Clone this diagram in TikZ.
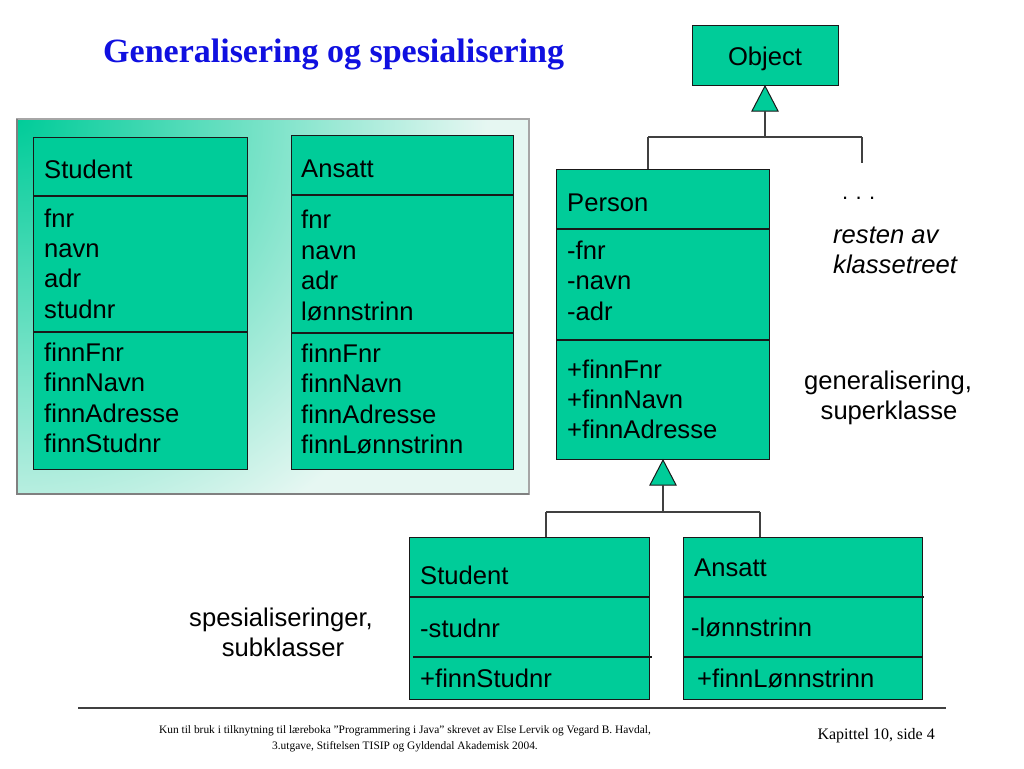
\documentclass[tikz,border=0pt]{standalone}
\usepackage{fontspec}
\setmainfont{Liberation Sans}
\newfontfamily\serifface{Liberation Serif}
\definecolor{teal1}{RGB}{0,204,153}
\definecolor{panellight}{RGB}{230,247,242}
\definecolor{titleblue}{RGB}{16,16,224}
\definecolor{linegray}{RGB}{64,64,64}
\definecolor{boxline}{RGB}{25,25,25}
\begin{document}
\begin{tikzpicture}[x=1pt,y=-1pt,
  umlbox/.style={draw=boxline,line width=1.2pt,fill=teal1,inner sep=0pt,anchor=north west},
  divider/.style={draw=boxline,line width=1.2pt},
  conn/.style={draw=linegray,line width=1.2pt},
  gentri/.style={draw=boxline,line width=1pt,fill=teal1,line join=miter},
  txt/.style={inner sep=0pt,anchor=base west,text=black,font=\fontsize{25.6}{30.7}\selectfont},
  ctxt/.style={txt,anchor=base},
  itxt/.style={txt,font=\fontsize{25.6}{30.7}\selectfont\itshape},
]
\useasboundingbox (0,0) rectangle (1024,768);
\fill[white] (0,0) rectangle (1024,768);

% title
\node[inner sep=0pt,anchor=base west,text=titleblue,font=\serifface\bfseries\fontsize{34}{40}\selectfont] (title) at (103,63) {Generalisering og spesialisering};

% left panel with gradient
\fill[panellight] (17,119) rectangle (529,494);
\begin{scope}
  \clip (17,119) rectangle (529,494);
  \shade[inner color=teal1, outer color=panellight] (17,119) circle (470);
\end{scope}
\draw[draw=gray!70,line width=1.5pt] (17,119) rectangle (529,494);
\draw[draw=gray,line width=2pt] (17,119) -- (17,494) -- (529,494);

% left Student box
\node[umlbox,minimum width=214pt,minimum height=332pt] (lstu) at (33,137) {};
\draw[divider] (33,196) -- (247,196);
\draw[divider] (33,332) -- (247,332);
\node[txt] (lstuname) at (44,178) {Student};
\node[txt] (lstua1) at (44,227) {fnr};
\node[txt] (lstua2) at (44,257) {navn};
\node[txt] (lstua3) at (44,287) {adr};
\node[txt] (lstua4) at (44,318) {studnr};
\node[txt] (lstum1) at (44,361) {finnFnr};
\node[txt] (lstum2) at (44,391) {finnNavn};
\node[txt] (lstum3) at (44,422) {finnAdresse};
\node[txt] (lstum4) at (44,452) {finnStudnr};

% left Ansatt box
\node[umlbox,minimum width=222pt,minimum height=334pt] (lans) at (291,135) {};
\draw[divider] (291,195) -- (513,195);
\draw[divider] (291,333) -- (513,333);
\node[txt] (lansname) at (301,177) {Ansatt};
\node[txt] (lansa1) at (301,228) {fnr};
\node[txt] (lansa2) at (301,259) {navn};
\node[txt] (lansa3) at (301,289) {adr};
\node[txt] (lansa4) at (301,320) {lønnstrinn};
\node[txt] (lansm1) at (301,362) {finnFnr};
\node[txt] (lansm2) at (301,392) {finnNavn};
\node[txt] (lansm3) at (301,423) {finnAdresse};
\node[txt] (lansm4) at (301,453) {finnLønnstrinn};

% Object box
\node[umlbox,minimum width=146pt,minimum height=60pt] (obj) at (692,25) {};
\node[ctxt] (objname) at (765,65) {Object};

% Person box
\node[umlbox,minimum width=213pt,minimum height=290pt] (person) at (556,169) {};
\draw[divider] (556,229) -- (769,229);
\draw[divider] (556,340) -- (769,340);
\node[txt] (pname) at (567,211) {Person};
\node[txt] (pa1) at (567,259) {-fnr};
\node[txt] (pa2) at (567,289) {-navn};
\node[txt] (pa3) at (567,320) {-adr};
\node[txt] (pm1) at (567,378) {+finnFnr};
\node[txt] (pm2) at (567,408) {+finnNavn};
\node[txt] (pm3) at (567,438) {+finnAdresse};

% sub Student box
\node[umlbox,minimum width=240pt,minimum height=162pt] (sstu) at (409,537) {};
\draw[divider] (409,597) -- (649,597);
\draw[divider] (413,657) -- (652,657);
\node[txt] (sstuname) at (420,584) {Student};
\node[txt] (sstua1) at (420,637) {-studnr};
\node[txt] (sstum1) at (420,687) {+finnStudnr};

% sub Ansatt box
\node[umlbox,minimum width=239pt,minimum height=162pt] (sans) at (683,537) {};
\draw[divider] (683,597) -- (924,597);
\draw[divider] (683,657) -- (922,657);
\node[txt] (sansname) at (694,576) {Ansatt};
\node[txt] (sansa1) at (691,636) {-lønnstrinn};
\node[txt] (sansm1) at (697,687) {+finnLønnstrinn};

% generalisation Object <- Person, ...
\draw[gentri] (765,86) -- (778,111) -- (752,111) -- cycle;
\coordinate (t1) at (765,111);
\coordinate (j1) at (765,137);
\coordinate (j1l) at (648,137);
\coordinate (j1r) at (862,137);
\coordinate (p1) at (648,169);
\coordinate (rest) at (862,163);
\draw[conn] (t1) -- (j1);
\draw[conn] (j1l) -- (j1r);
\draw[conn] (j1l) -- (p1);
\draw[conn] (j1r) -- (rest);

% generalisation Person <- Student, Ansatt
\draw[gentri] (663,460) -- (676,485) -- (650,485) -- cycle;
\coordinate (t2) at (663,485);
\coordinate (j2) at (663,512);
\coordinate (j2l) at (546,512);
\coordinate (j2r) at (760,512);
\coordinate (s1) at (546,537);
\coordinate (s2) at (760,537);
\draw[conn] (t2) -- (j2);
\draw[conn] (j2l) -- (j2r);
\draw[conn] (j2l) -- (s1);
\draw[conn] (j2r) -- (s2);

% labels
\node[txt,font=\fontsize{22}{26}\selectfont] (dots) at (842,199) {.\,\,.\,\,.};
\node[itxt] (rest1) at (833,243) {resten av};
\node[itxt] (rest2) at (833,273) {klassetreet};
\node[ctxt] (gen1) at (888,389) {generalisering,};
\node[ctxt] (gen2) at (889,419) {superklasse};
\node[ctxt] (spec1) at (281,626) {spesialiseringer,};
\node[ctxt] (spec2) at (283,656) {subklasser};

% footer
\draw[draw=linegray,line width=1.3pt] (78,708) -- (946,708);
\node[inner sep=0pt,anchor=base,font=\serifface\fontsize{11.4}{13}\selectfont] (foot1) at (405,733) {Kun til bruk i tilknytning til læreboka ”Programmering i Java” skrevet av Else Lervik og Vegard B. Havdal,};
\node[inner sep=0pt,anchor=base,font=\serifface\fontsize{11.4}{13}\selectfont] (foot2) at (405,749) {3.utgave, Stiftelsen TISIP og Gyldendal Akademisk 2004.};
\node[inner sep=0pt,anchor=base east,font=\serifface\fontsize{16}{19}\selectfont] (page) at (935,739) {Kapittel 10, side 4};
\end{tikzpicture}
\end{document}
